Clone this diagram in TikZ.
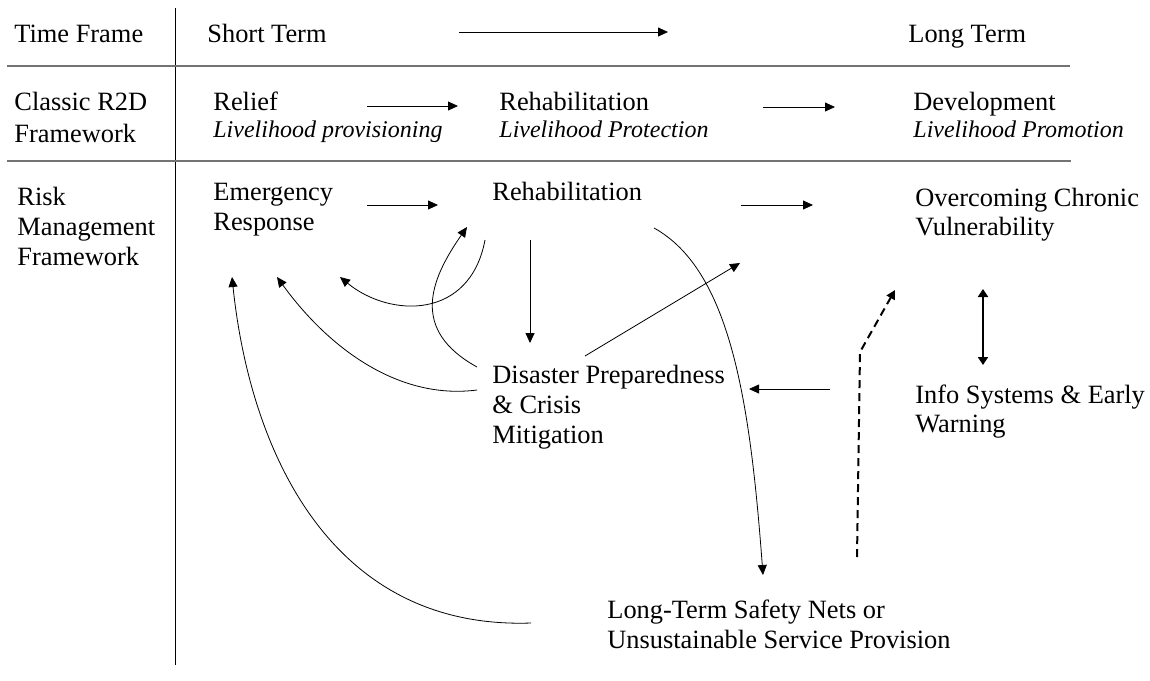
\documentclass[tikz,border=0pt]{standalone}
\usepackage{fontspec}
\setmainfont{Liberation Serif}
\usetikzlibrary{arrows.meta,calc}

\newcommand{\livelihood}[1]{{\fontsize{12}{13.5}\selectfont\itshape #1}}

\begin{document}
\begin{tikzpicture}
	% Styles
	[
	x=0.5pt, y=-0.5pt,
	txt/.style={anchor=base west, inner sep=0pt, align=left, font=\fontsize{13.2}{15}\selectfont},
	rule/.style={draw=black!55, line width=1pt},
	arr/.style={-{Triangle[length=5pt,width=4.5pt]}, line width=0.4pt},
	dasharr/.style={-{Triangle[length=4.5pt,width=4.5pt]}, line width=1pt, dash pattern=on 4pt off 2.5pt},
	duoarr/.style={{Triangle[length=4pt,width=5pt]}-{Triangle[length=4pt,width=5pt]}, line width=1pt}
	]
	\useasboundingbox (0,0) rectangle (1150,680);

	% Table rules
	\draw[line width=0.5pt] (175,8) -- (175,665);
	\draw[rule] (7,66) -- (1070,66);
	\draw[rule] (7,161) -- (1071,161);

	% Nodes (placed at the baseline of their last line)
	\node at (14,42)	(tf)	[txt] {Time Frame};
	\node at (207,42)	(st)	[txt] {Short Term};
	\node at (908,42)	(lt)	[txt] {Long Term};
	\node at (14,142)	(r2d)	[txt, font=\fontsize{13.2}{16}\selectfont] {Classic R2D\\Framework};
	\node at (213,137)	(relief)	[txt, font=\fontsize{13.2}{13.5}\selectfont] {Relief\\\livelihood{Livelihood provisioning}};
	\node at (499,137)	(rehab1)	[txt, font=\fontsize{13.2}{13.5}\selectfont] {Rehabilitation\\\livelihood{Livelihood Protection}};
	\node at (913,137)	(devel)	[txt, font=\fontsize{13.2}{13.5}\selectfont] {Development\\\livelihood{Livelihood Promotion}};
	\node at (17,265)	(rmf)	[txt] {Risk\\Management\\Framework};
	\node at (213,230)	(emerg)	[txt] {Emergency\\Response};
	\node at (492,200)	(rehab2)	[txt] {Rehabilitation};
	\node at (915,235)	(overc)	[txt, font=\fontsize{13.2}{14.5}\selectfont] {Overcoming Chronic\\Vulnerability};
	\node at (492,443)	(disas)	[txt] {Disaster Preparedness\\\& Crisis\\Mitigation};
	\node at (915,432)	(info)	[txt, font=\fontsize{13.2}{14.5}\selectfont] {Info Systems \& Early\\Warning};
	\node at (607,648)	(ltsn)	[txt] {Long-Term Safety Nets or\\Unsustainable Service Provision};

	% Connections
	\draw[arr] ([shift={(252,-10)}]st.base west) -- ([shift={(-240,-10)}]lt.base west);
	\draw[arr] ([shift={(154,-31)}]relief.base west) -- ([shift={(-41,-31)}]rehab1.base west);
	\draw[arr] ([shift={(264,-30)}]rehab1.base west) -- ([shift={(-78,-30)}]devel.base west);
	\draw[arr] ([shift={(154,-25)}]emerg.base west) -- ([shift={(-54,5)}]rehab2.base west);
	\draw[arr] ([shift={(249,5)}]rehab2.base west) -- ([shift={(-102,-30)}]overc.base west);
	\draw[arr] ([shift={(38,40)}]rehab2.base west) -- ([shift={(38,-100)}]disas.base west);
	\draw[arr] ([shift={(-7,40)}]rehab2.base west) .. controls +(-15,80) and +(50,41) .. ([shift={(127,47)}]emerg.base west);
	\draw[arr] ([shift={(-15,-76)}]disas.base west) .. controls +(-67,-37) and +(-37,53) .. ([shift={(-25,27)}]rehab2.base west);
	\draw[arr] ([shift={(-15,-53)}]disas.base west) .. controls +(-77,10) and +(53,73) .. ([shift={(64,47)}]emerg.base west);
	\draw[arr] ([shift={(-76,-25)}]ltsn.base west) .. controls +(-201,7) and +(18,173) .. ([shift={(19,47)}]emerg.base west);
	\draw[arr] ([shift={(162,28)}]rehab2.base west) .. controls +(76,42) and +(-13,-175) .. ([shift={(156,-73)}]ltsn.base west);
	\draw[arr] ([shift={(93,-87)}]disas.base west) -- ([shift={(-175,28)}]overc.base west);
	\draw[arr] ([shift={(-85,-43)}]info.base west) -- ([shift={(257,-54)}]disas.base west);
	\draw[dasharr] ([shift={(250,-91)}]ltsn.base west) -- ++(3,-205) -- ([shift={(-20,55)}]overc.base west);
	\draw[duoarr] ([shift={(68,54)}]overc.base west) -- ([shift={(68,-67)}]info.base west);

\end{tikzpicture}
\end{document}
